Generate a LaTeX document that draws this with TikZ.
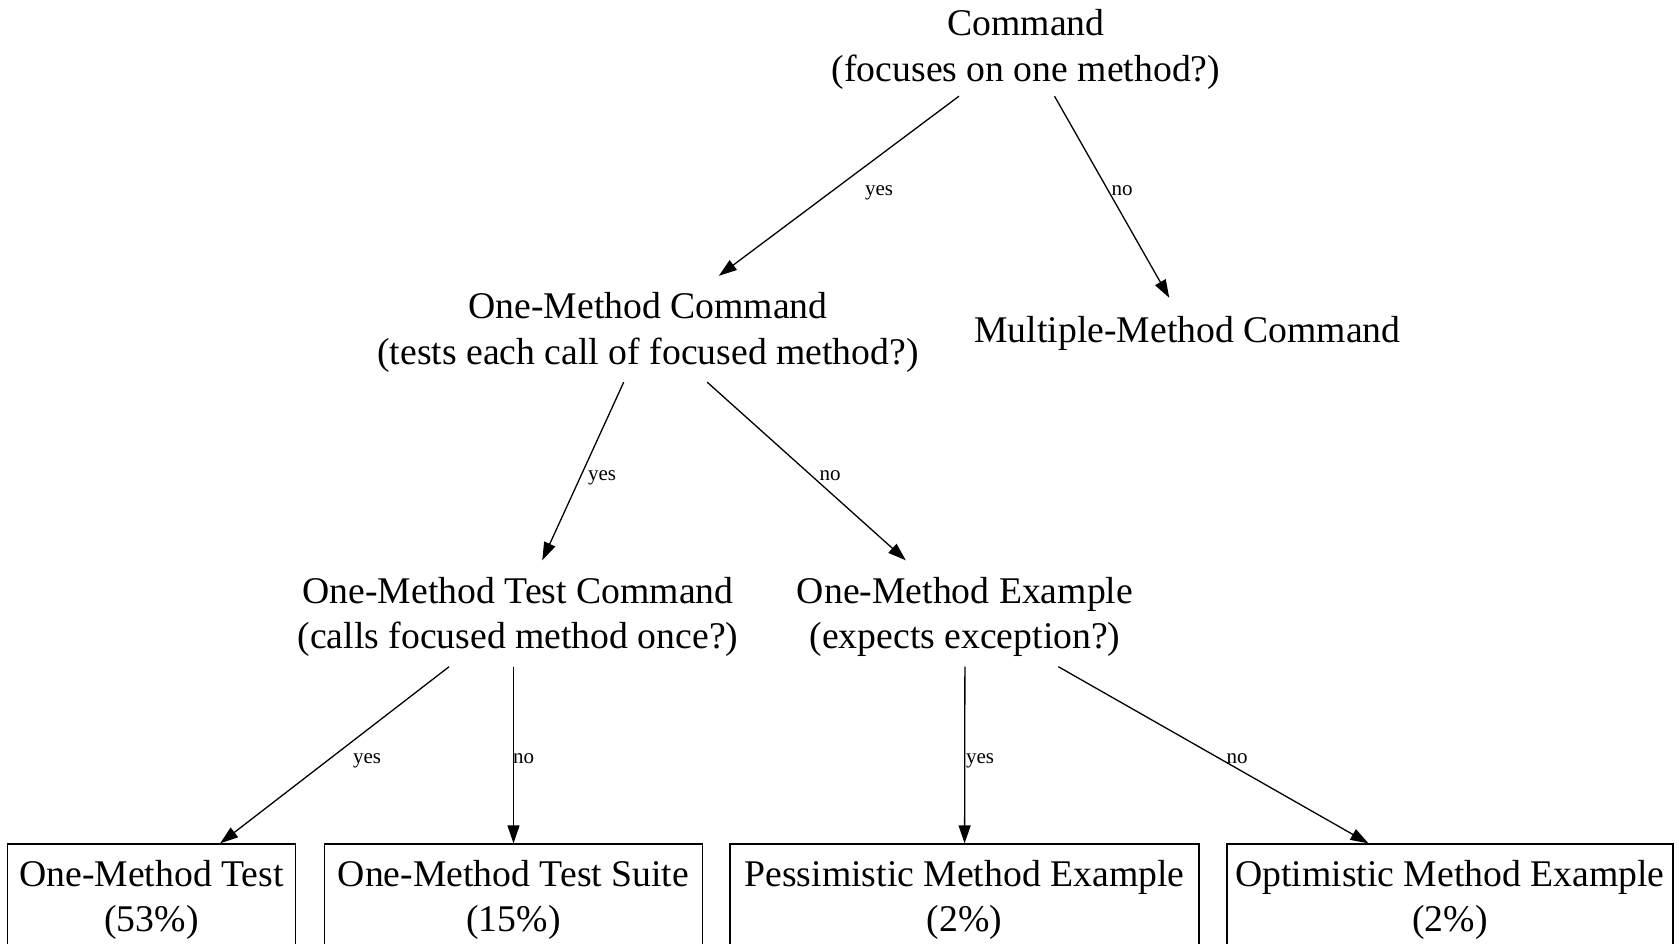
\documentclass[tikz,border=0pt]{standalone}
\usepackage{fontspec}
\setmainfont{Liberation Serif}
\usetikzlibrary{arrows.meta}
\newcommand{\nodefont}{\fontsize{37.7}{45.2}\selectfont}
\newcommand{\lblfont}{\fontsize{21}{25}\selectfont}
\newcommand{\up}{\rule{0pt}{33pt}}
\tikzset{ask/.style={align=center, inner sep=0pt, font=\nodefont, minimum height=106},
leaf/.style={ask, draw, line width=1.3pt, minimum height=105},
lbl/.style={font=\lblfont, inner sep=0pt, text height=14pt, text depth=5pt, yshift=-2.5pt},
arr/.style={line width=1.3pt, -{Triangle[length=18pt,width=12pt]}}}
\begin{document}
\begin{tikzpicture}[x=1pt, y=-1pt]
\useasboundingbox (0,0) rectangle (1679,943);

\node[ask, minimum height=100] (cmd) at (1026,46) {\up Command\\(focuses on one method?)};
\node[ask] (one) at (648,329) {\up One-Method Command\\(tests each call of focused method?)};
\node[ask, minimum height=64] (multi) at (1187.5,330) {\up Multiple-Method Command};
\node[ask] (tcmd) at (518,613.5) {\up One-Method Test Command\\(calls focused method once?)};
\node[ask] (ex) at (965,613.5) {\up One-Method Example\\(expects exception?)};

\node[leaf, minimum width=288] (t) at (151.5,896.5) {\up One-Method Test\\(53\%)};
\node[leaf, minimum width=378] (suite) at (513.5,896.5) {\up One-Method Test Suite\\(15\%)};
\node[leaf, minimum width=469] (pess) at (964.5,896.5) {\up Pessimistic Method Example\\(2\%)};
\node[leaf, minimum width=446] (opt) at (1450,896.5) {\up Optimistic Method Example\\(2\%)};

\draw[arr] (cmd) -- (one) node[lbl] at (879,188) {yes};
\draw[arr] (cmd) -- (multi) node[lbl] at (1122,188) {no};
\draw[arr] (one) -- (tcmd) node[lbl] at (602,473) {yes};
\draw[arr] (one) -- (ex) node[lbl] at (830,473) {no};
\draw[arr] (tcmd) -- (t) node[lbl] at (367,756) {yes};
\draw[arr] (tcmd.south -| suite) -- (suite) node[lbl] at (523.6,756) {no};
\draw[arr] (ex) -- (pess) node[lbl] at (980,756) {yes};
\draw[arr] (ex) -- ([xshift=-81.5pt]opt.north) node[lbl] at (1237,756) {no};

\end{tikzpicture}
\end{document}
